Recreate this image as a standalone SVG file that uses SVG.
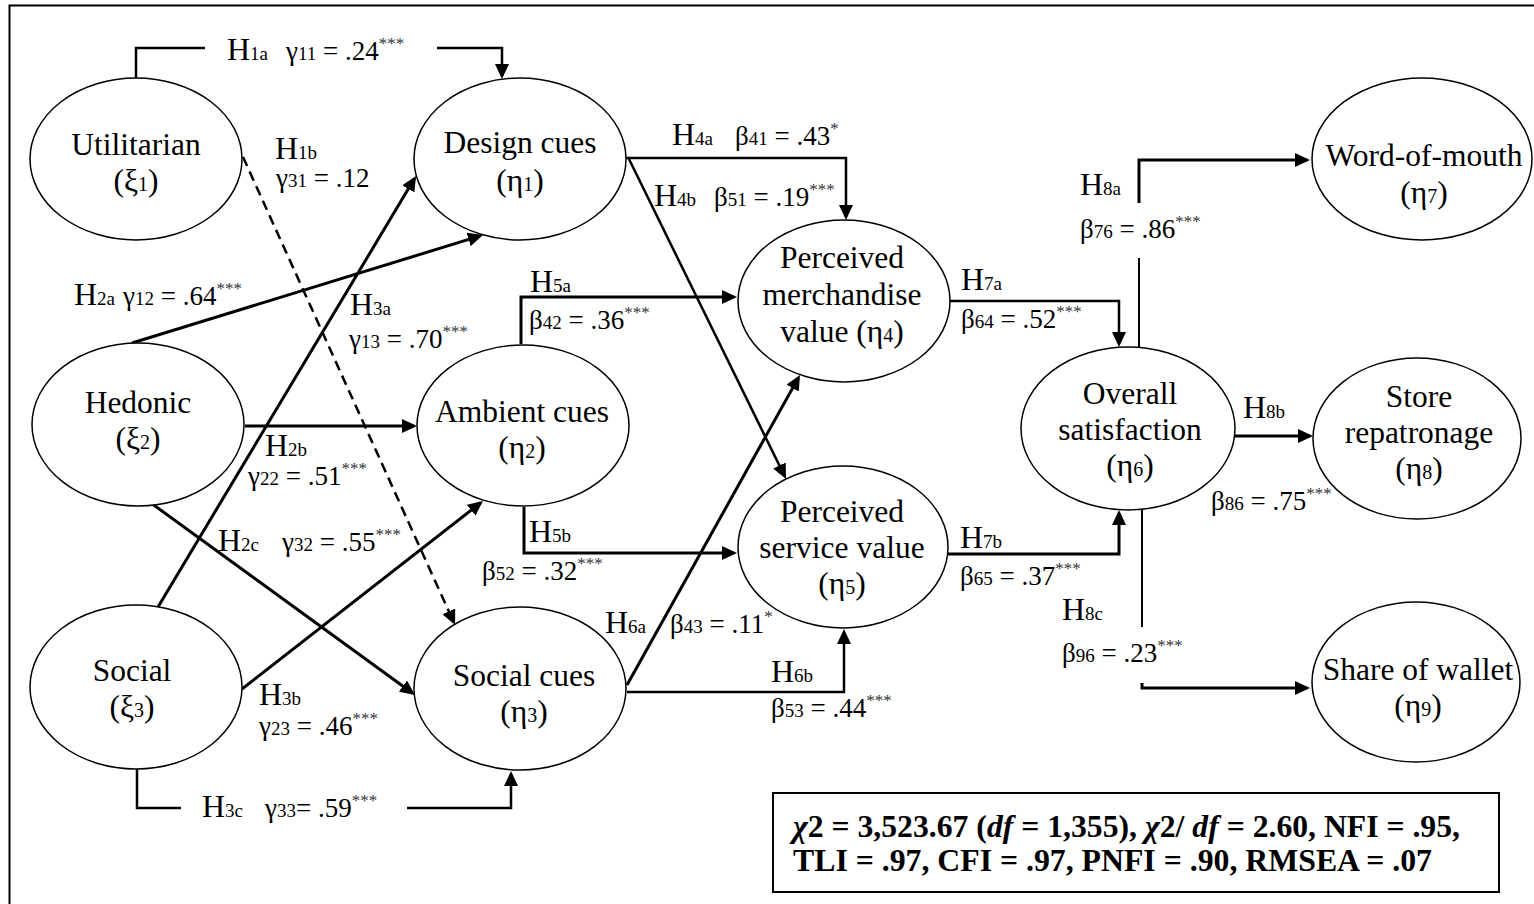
<svg xmlns="http://www.w3.org/2000/svg" width="1534" height="904" viewBox="0 0 1534 904">
<style>
text { font-family: "Liberation Serif", "Times New Roman", serif; fill: #000; }
.n { font-size: 31.5px; text-anchor: middle; }
.ns { font-size: 20px; }
.h { font-size: 32px; }
.c { font-size: 27px; }
.s { font-size: 19px; }
.sup { font-size: 17px; fill: #333; }
.node ellipse { fill: #fff; stroke: #000; stroke-width: 1.5; }
.conn path { fill: none; stroke: #000; stroke-width: 3; }
.conn .thin { stroke-width: 2.5; }
.conn .vthin { stroke-width: 2; }
.conn .dash { stroke-width: 2.5; stroke-dasharray: 10 6; }
.box { font-size: 31.5px; font-weight: bold; }
</style>
<defs>
<marker id="ah" markerUnits="userSpaceOnUse" markerWidth="15" markerHeight="14" viewBox="0 0 15 14" refX="12" refY="7" orient="auto">
<path d="M0,0 L15,7 L0,14 z" fill="#000"/>
</marker>
</defs>
<rect x="9.5" y="5.5" width="1540" height="910" fill="#fff" stroke="#000" stroke-width="2"/>

<g id="connectors" class="conn">
<path class="thin" d="M136,78 V48 H205"/>
<path class="thin" d="M437,48 H502 V76" marker-end="url(#ah)"/>
<path class="dash" d="M243,157 L453.8,622.3" marker-end="url(#ah)"/>
<path d="M132,343 L480.1,235.9" marker-end="url(#ah)"/>
<path d="M158,607 L414.5,178.6" marker-end="url(#ah)"/>
<path d="M245,426 H414" marker-end="url(#ah)"/>
<path d="M151,503 L412.6,693.2" marker-end="url(#ah)"/>
<path d="M242,689 L480.6,502.8" marker-end="url(#ah)"/>
<path class="thin" d="M137,769 V808 H181"/>
<path class="thin" d="M407,808 H511 V774" marker-end="url(#ah)"/>
<path class="thin" d="M626,158 H846 V217" marker-end="url(#ah)"/>
<path class="thin" d="M628,157 L784.7,476.3" marker-end="url(#ah)"/>
<path d="M521,344 V297 H734" marker-end="url(#ah)"/>
<path d="M524,507 V553 H734" marker-end="url(#ah)"/>
<path d="M627,685 L798.5,377.6" marker-end="url(#ah)"/>
<path class="thin" d="M627,692 H844 V632" marker-end="url(#ah)"/>
<path class="thin" d="M949,301 H1119 V344" marker-end="url(#ah)"/>
<path d="M948,554 H1119 V513" marker-end="url(#ah)"/>
<path class="vthin" d="M1139,347 V258"/>
<path d="M1139,203 V160 H1307" marker-end="url(#ah)"/>
<path d="M1235,436 H1310" marker-end="url(#ah)"/>
<path class="vthin" d="M1142,510 V627"/>
<path d="M1142,683 V688 H1307" marker-end="url(#ah)"/>
</g>

<g id="utilitarian" class="node">
<ellipse cx="136" cy="159" rx="106" ry="81"/>
<text class="n" x="136" y="155">Utilitarian</text>
<text class="n" x="136" y="191">(ξ<tspan class="ns">1</tspan>)</text>
</g>
<g id="design-cues" class="node">
<ellipse cx="520" cy="159" rx="106" ry="81"/>
<text class="n" x="520" y="153">Design cues</text>
<text class="n" x="520" y="191">(η<tspan class="ns">1</tspan>)</text>
</g>
<g id="hedonic" class="node">
<ellipse cx="138" cy="424.5" rx="106" ry="81.5"/>
<text class="n" x="138" y="413">Hedonic</text>
<text class="n" x="138" y="449">(ξ<tspan class="ns">2</tspan>)</text>
</g>
<g id="ambient-cues" class="node">
<ellipse cx="523" cy="425.5" rx="106" ry="80.5"/>
<text class="n" x="522" y="422">Ambient cues</text>
<text class="n" x="522" y="458">(η<tspan class="ns">2</tspan>)</text>
</g>
<g id="social" class="node">
<ellipse cx="136" cy="687" rx="106" ry="82"/>
<text class="n" x="132" y="681">Social</text>
<text class="n" x="132" y="717">(ξ<tspan class="ns">3</tspan>)</text>
</g>
<g id="social-cues" class="node">
<ellipse cx="520" cy="688.5" rx="106" ry="81.5"/>
<text class="n" x="524" y="686">Social cues</text>
<text class="n" x="524" y="722">(η<tspan class="ns">3</tspan>)</text>
</g>
<g id="merchandise-value" class="node">
<ellipse cx="844" cy="301" rx="106" ry="81"/>
<text class="n" x="842" y="268">Perceived</text>
<text class="n" x="842" y="305">merchandise</text>
<text class="n" x="842" y="342">value (η<tspan class="ns">4</tspan>)</text>
</g>
<g id="service-value" class="node">
<ellipse cx="843" cy="547" rx="105" ry="81"/>
<text class="n" x="842" y="522">Perceived</text>
<text class="n" x="842" y="558">service value</text>
<text class="n" x="842" y="594">(η<tspan class="ns">5</tspan>)</text>
</g>
<g id="overall-satisfaction" class="node">
<ellipse cx="1128" cy="428.5" rx="107" ry="81.5"/>
<text class="n" x="1130" y="404">Overall</text>
<text class="n" x="1130" y="440">satisfaction</text>
<text class="n" x="1130" y="476">(η<tspan class="ns">6</tspan>)</text>
</g>
<g id="word-of-mouth" class="node">
<ellipse cx="1422" cy="159" rx="110" ry="81"/>
<text class="n" x="1424" y="166">Word-of-mouth</text>
<text class="n" x="1424" y="203">(η<tspan class="ns">7</tspan>)</text>
</g>
<g id="store-repatronage" class="node">
<ellipse cx="1417" cy="438.5" rx="104" ry="80.5"/>
<text class="n" x="1419" y="407">Store</text>
<text class="n" x="1419" y="443">repatronage</text>
<text class="n" x="1419" y="479">(η<tspan class="ns">8</tspan>)</text>
</g>
<g id="share-of-wallet" class="node">
<ellipse cx="1416" cy="682" rx="104" ry="80"/>
<text class="n" x="1418" y="680">Share of wallet</text>
<text class="n" x="1418" y="716">(η<tspan class="ns">9</tspan>)</text>
</g>

<g id="labels">
<text x="227" y="60"><tspan class="h">H</tspan><tspan class="s">1a</tspan><tspan class="c" x="286">γ</tspan><tspan class="s">11</tspan><tspan class="c"> = .24</tspan><tspan class="sup" dy="-11">***</tspan></text>
<text x="275" y="159"><tspan class="h">H</tspan><tspan class="s">1b</tspan></text>
<text x="276" y="187"><tspan class="c">γ</tspan><tspan class="s">31</tspan><tspan class="c"> = .12</tspan></text>
<text x="74" y="305"><tspan class="h">H</tspan><tspan class="s">2a</tspan><tspan class="c" x="123">γ</tspan><tspan class="s">12</tspan><tspan class="c"> = .64</tspan><tspan class="sup" dy="-11">***</tspan></text>
<text x="350" y="315"><tspan class="h">H</tspan><tspan class="s">3a</tspan></text>
<text x="349" y="348"><tspan class="c">γ</tspan><tspan class="s">13</tspan><tspan class="c"> = .70</tspan><tspan class="sup" dy="-11">***</tspan></text>
<text x="265" y="456"><tspan class="h">H</tspan><tspan class="s">2b</tspan></text>
<text x="248" y="485"><tspan class="c">γ</tspan><tspan class="s">22</tspan><tspan class="c">  = .51</tspan><tspan class="sup" dy="-11">***</tspan></text>
<text x="218" y="551"><tspan class="h">H</tspan><tspan class="s">2c</tspan><tspan class="c" x="282">γ</tspan><tspan class="s">32</tspan><tspan class="c"> = .55</tspan><tspan class="sup" dy="-11">***</tspan></text>
<text x="259" y="705"><tspan class="h">H</tspan><tspan class="s">3b</tspan></text>
<text x="259" y="735"><tspan class="c">γ</tspan><tspan class="s">23</tspan><tspan class="c"> = .46</tspan><tspan class="sup" dy="-11">***</tspan></text>
<text x="202" y="817"><tspan class="h">H</tspan><tspan class="s">3c</tspan><tspan class="c" x="265">γ</tspan><tspan class="s">33</tspan><tspan class="c">= .59</tspan><tspan class="sup" dy="-11">***</tspan></text>
<text x="672" y="145"><tspan class="h">H</tspan><tspan class="s">4a</tspan><tspan class="c" x="735">β</tspan><tspan class="s">41</tspan><tspan class="c"> = .43</tspan><tspan class="sup" dy="-11">*</tspan></text>
<text x="654" y="206"><tspan class="h">H</tspan><tspan class="s">4b</tspan><tspan class="c" x="714">β</tspan><tspan class="s">51</tspan><tspan class="c"> = .19</tspan><tspan class="sup" dy="-11">***</tspan></text>
<text x="530" y="292"><tspan class="h">H</tspan><tspan class="s">5a</tspan></text>
<text x="529" y="329"><tspan class="c">β</tspan><tspan class="s">42</tspan><tspan class="c"> = .36</tspan><tspan class="sup" dy="-11">***</tspan></text>
<text x="529" y="542"><tspan class="h">H</tspan><tspan class="s">5b</tspan></text>
<text x="482" y="580"><tspan class="c">β</tspan><tspan class="s">52</tspan><tspan class="c"> = .32</tspan><tspan class="sup" dy="-11">***</tspan></text>
<text x="605" y="633"><tspan class="h">H</tspan><tspan class="s">6a</tspan></text>
<text x="670" y="633"><tspan class="c">β</tspan><tspan class="s">43</tspan><tspan class="c"> = .11</tspan><tspan class="sup" dy="-11">*</tspan></text>
<text x="771" y="682"><tspan class="h">H</tspan><tspan class="s">6b</tspan></text>
<text x="771" y="717"><tspan class="c">β</tspan><tspan class="s">53</tspan><tspan class="c"> = .44</tspan><tspan class="sup" dy="-11">***</tspan></text>
<text x="961" y="290"><tspan class="h">H</tspan><tspan class="s">7a</tspan></text>
<text x="961" y="328"><tspan class="c">β</tspan><tspan class="s">64</tspan><tspan class="c"> = .52</tspan><tspan class="sup" dy="-11">***</tspan></text>
<text x="960" y="548"><tspan class="h">H</tspan><tspan class="s">7b</tspan></text>
<text x="960" y="585"><tspan class="c">β</tspan><tspan class="s">65</tspan><tspan class="c"> = .37</tspan><tspan class="sup" dy="-11">***</tspan></text>
<text x="1080" y="195"><tspan class="h">H</tspan><tspan class="s">8a</tspan></text>
<text x="1080" y="238"><tspan class="c">β</tspan><tspan class="s">76</tspan><tspan class="c"> = .86</tspan><tspan class="sup" dy="-11">***</tspan></text>
<text x="1243" y="418"><tspan class="h">H</tspan><tspan class="s">8b</tspan></text>
<text x="1211" y="510"><tspan class="c">β</tspan><tspan class="s">86</tspan><tspan class="c"> = .75</tspan><tspan class="sup" dy="-11">***</tspan></text>
<text x="1062" y="620"><tspan class="h">H</tspan><tspan class="s">8c</tspan></text>
<text x="1062" y="662"><tspan class="c">β</tspan><tspan class="s">96</tspan><tspan class="c"> = .23</tspan><tspan class="sup" dy="-11">***</tspan></text>
</g>

<g id="fit-indices">
<rect x="773" y="793" width="726" height="99" fill="#fff" stroke="#000" stroke-width="2"/>
<text class="box" x="793" y="837" textLength="667" lengthAdjust="spacingAndGlyphs"><tspan font-style="italic">χ</tspan>2 = 3,523.67 (<tspan font-style="italic">df</tspan> = 1,355), <tspan font-style="italic">χ</tspan>2/ <tspan font-style="italic">df</tspan> = 2.60, NFI = .95,</text>
<text class="box" x="793" y="871" textLength="639" lengthAdjust="spacingAndGlyphs">TLI = .97, CFI = .97, PNFI = .90, RMSEA = .07</text>
</g>
</svg>
